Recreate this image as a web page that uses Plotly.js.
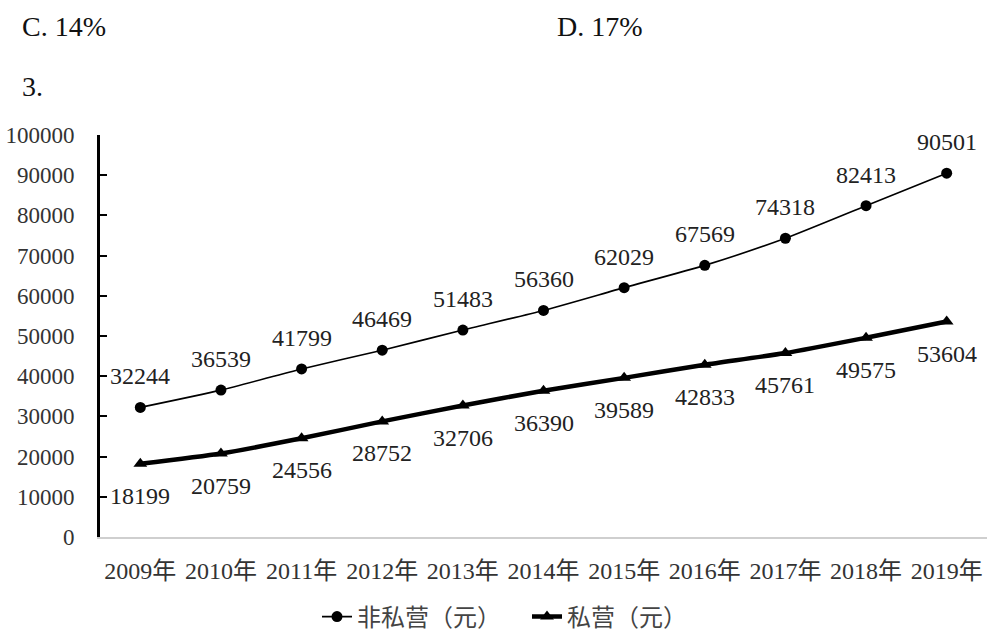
<!DOCTYPE html>
<html><head><meta charset="utf-8">
<script src="https://cdn.plot.ly/plotly-3.0.1.min.js"></script>
<style>html,body{margin:0;padding:0;background:#fff}</style>
</head><body>
<div id="chart" style="width:987px;height:631px"></div>
<script>
const years = ["2009年","2010年","2011年","2012年","2013年","2014年","2015年","2016年","2017年","2018年","2019年"];
const nonPrivate = [32244,36539,41799,46469,51483,56360,62029,67569,74318,82413,90501];
const privateVals = [18199,20759,24556,28752,32706,36390,39589,42833,45761,49575,53604];
const seriesNames = ["非私营（元）","私营（元）"];
const yTicks = [0,10000,20000,30000,40000,50000,60000,70000,80000,90000,100000];

const serif = "Liberation Serif, Noto Sans CJK SC, serif";
const traces = [
  {x: years, y: nonPrivate, name: seriesNames[0], type: "scatter", mode: "lines+markers",
   line: {color: "#000", width: 1.6, shape: "spline", smoothing: 0.6},
   marker: {symbol: "circle", size: 11, color: "#000"}, cliponaxis: false},
  {x: years, y: privateVals, name: seriesNames[1], type: "scatter", mode: "lines+markers",
   line: {color: "#000", width: 4.5, shape: "spline", smoothing: 0.6},
   marker: {symbol: "triangle-up", size: 12, color: "#000"}, cliponaxis: false}
];
const W = 987, H = 631, ML = 100, MT = 135, MB = 94;
const labelFont = {family: serif, size: 24, color: "#222"};
const labels = [];
years.forEach((yr, i) => {
  labels.push({x: yr, y: nonPrivate[i], xref: "x", yref: "y", text: String(nonPrivate[i]),
               showarrow: false, yshift: 31, xanchor: "center", yanchor: "middle", font: labelFont});
  labels.push({x: yr, y: privateVals[i], xref: "x", yref: "y", text: String(privateVals[i]),
               showarrow: false, yshift: -32, xanchor: "center", yanchor: "middle", font: labelFont});
});
const layout = {
  width: W, height: H,
  margin: {l: ML, r: 0, t: MT, b: MB},
  paper_bgcolor: "#fff", plot_bgcolor: "#fff",
  font: {family: serif, size: 20, color: "#333"},
  showlegend: true,
  legend: {orientation: "h", xref: "container", yref: "container",
           x: 527 / W, xanchor: "center", y: 14 / H, yanchor: "middle",
           entrywidth: 165,
           font: {family: serif, size: 24, color: "#444"}},
  xaxis: {type: "category", showgrid: false, zeroline: false, automargin: false,
          showline: true, linecolor: "#cfcfcf", linewidth: 1.5,
          ticks: "", ticklabelstandoff: 12,
          tickfont: {family: serif, size: 24, color: "#333"},
          range: [-0.5, 10.5]},
  yaxis: {range: [0, 100000], tickvals: yTicks, ticktext: yTicks.map(String), automargin: false,
          showgrid: false, zeroline: false, showline: true, linecolor: "#000", linewidth: 3,
          ticks: "inside", ticklen: 7, tickwidth: 2, tickcolor: "#000",
          ticklabelstandoff: 18,
          tickfont: {family: serif, size: 23, color: "#333"}}
};
const pw = W - ML, ph = H - MT - MB;
function px(xp, yp, text){
  return {text: text, xref: "paper", yref: "paper",
          x: (xp - ML) / pw, y: (H - MB - yp) / ph,
          xanchor: "left", yanchor: "middle", showarrow: false,
          font: {family: serif, size: 28, color: "#111"}};
}
layout.annotations = labels.concat([px(20, 26, "C. 14%"), px(555, 26, "D. 17%"), px(20, 86, "3.")]);
Plotly.newPlot("chart", traces, layout, {displayModeBar: false, staticPlot: true});
</script>
</body></html>
